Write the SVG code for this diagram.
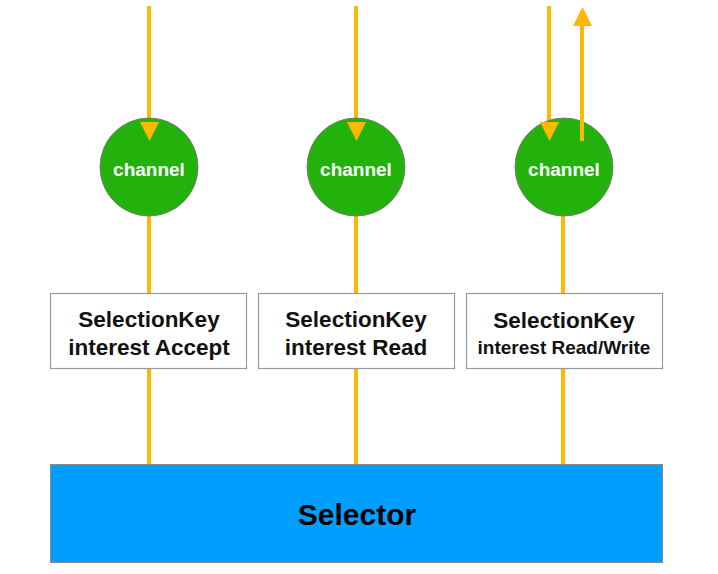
<svg xmlns="http://www.w3.org/2000/svg" width="718" height="574" viewBox="0 0 718 574">
<defs>
<style>
.wire{stroke:#FFB800;stroke-width:4;fill:none}
.head{fill:#FFB800}
.ch{fill:#22B20B;stroke:#7a7a7a;stroke-width:1}
.key{fill:#fff;stroke:#9a9a9a;stroke-width:1.2}
.t{font-family:"Liberation Sans",Arial,sans-serif;font-weight:bold;text-anchor:middle}
.cht{fill:#fff;font-size:19px}
.kt{fill:#111;font-size:22.5px}
.ks{fill:#111;font-size:19px}
</style>
</defs>
<rect width="718" height="574" fill="#fff"/>
<g id="connectors">
<line class="wire" x1="149" y1="6" x2="149" y2="124"/>
<polygon class="head" points="140,122 159,122 149.5,141"/>
<line class="wire" x1="149" y1="214" x2="149" y2="293"/>
<line class="wire" x1="149" y1="369" x2="149" y2="464"/>
<line class="wire" x1="356" y1="6" x2="356" y2="124"/>
<polygon class="head" points="347,122 366,122 356.5,141"/>
<line class="wire" x1="356" y1="214" x2="356" y2="293"/>
<line class="wire" x1="356" y1="369" x2="356" y2="464"/>
<line class="wire" x1="549" y1="6" x2="549" y2="124"/>
<polygon class="head" points="540,122 559,122 549.5,141"/>
<line class="wire" x1="582" y1="141" x2="582" y2="24"/>
<polygon class="head" points="573,26 592,26 582.5,7"/>
<line class="wire" x1="563" y1="214" x2="563" y2="293"/>
<line class="wire" x1="563" y1="369" x2="563" y2="464"/>
</g>
<g id="channel1">
<circle class="ch" cx="149" cy="167" r="49"/>
<polygon class="head" points="140,122 159,122 149.5,141"/>
<text class="t cht" x="149" y="176">channel</text>
</g>
<g id="channel2">
<circle class="ch" cx="356" cy="167" r="49"/>
<polygon class="head" points="347,122 366,122 356.5,141"/>
<text class="t cht" x="356" y="176">channel</text>
</g>
<g id="channel3">
<circle class="ch" cx="564" cy="167" r="49"/>
<polygon class="head" points="540,122 559,122 549.5,141"/>
<line class="wire" x1="582" y1="141" x2="582" y2="110"/>
<text class="t cht" x="564" y="176">channel</text>
</g>
<g id="key1">
<rect class="key" x="50.5" y="293.5" width="196" height="75"/>
<text class="t kt" x="149" y="327">SelectionKey</text>
<text class="t kt" x="149" y="355">interest Accept</text>
</g>
<g id="key2">
<rect class="key" x="258.5" y="293.5" width="196" height="75"/>
<text class="t kt" x="356" y="327">SelectionKey</text>
<text class="t kt" x="356" y="355">interest Read</text>
</g>
<g id="key3">
<rect class="key" x="466.5" y="293.5" width="196" height="75"/>
<text class="t kt" x="564" y="328">SelectionKey</text>
<text class="t ks" x="564" y="354">interest Read/Write</text>
</g>
<g id="selector">
<rect x="50.5" y="464.5" width="612" height="98" fill="#009FFF" stroke="#8a8a8a" stroke-width="1"/>
<text class="t" x="357" y="525" font-size="30" fill="#000">Selector</text>
</g>
</svg>
